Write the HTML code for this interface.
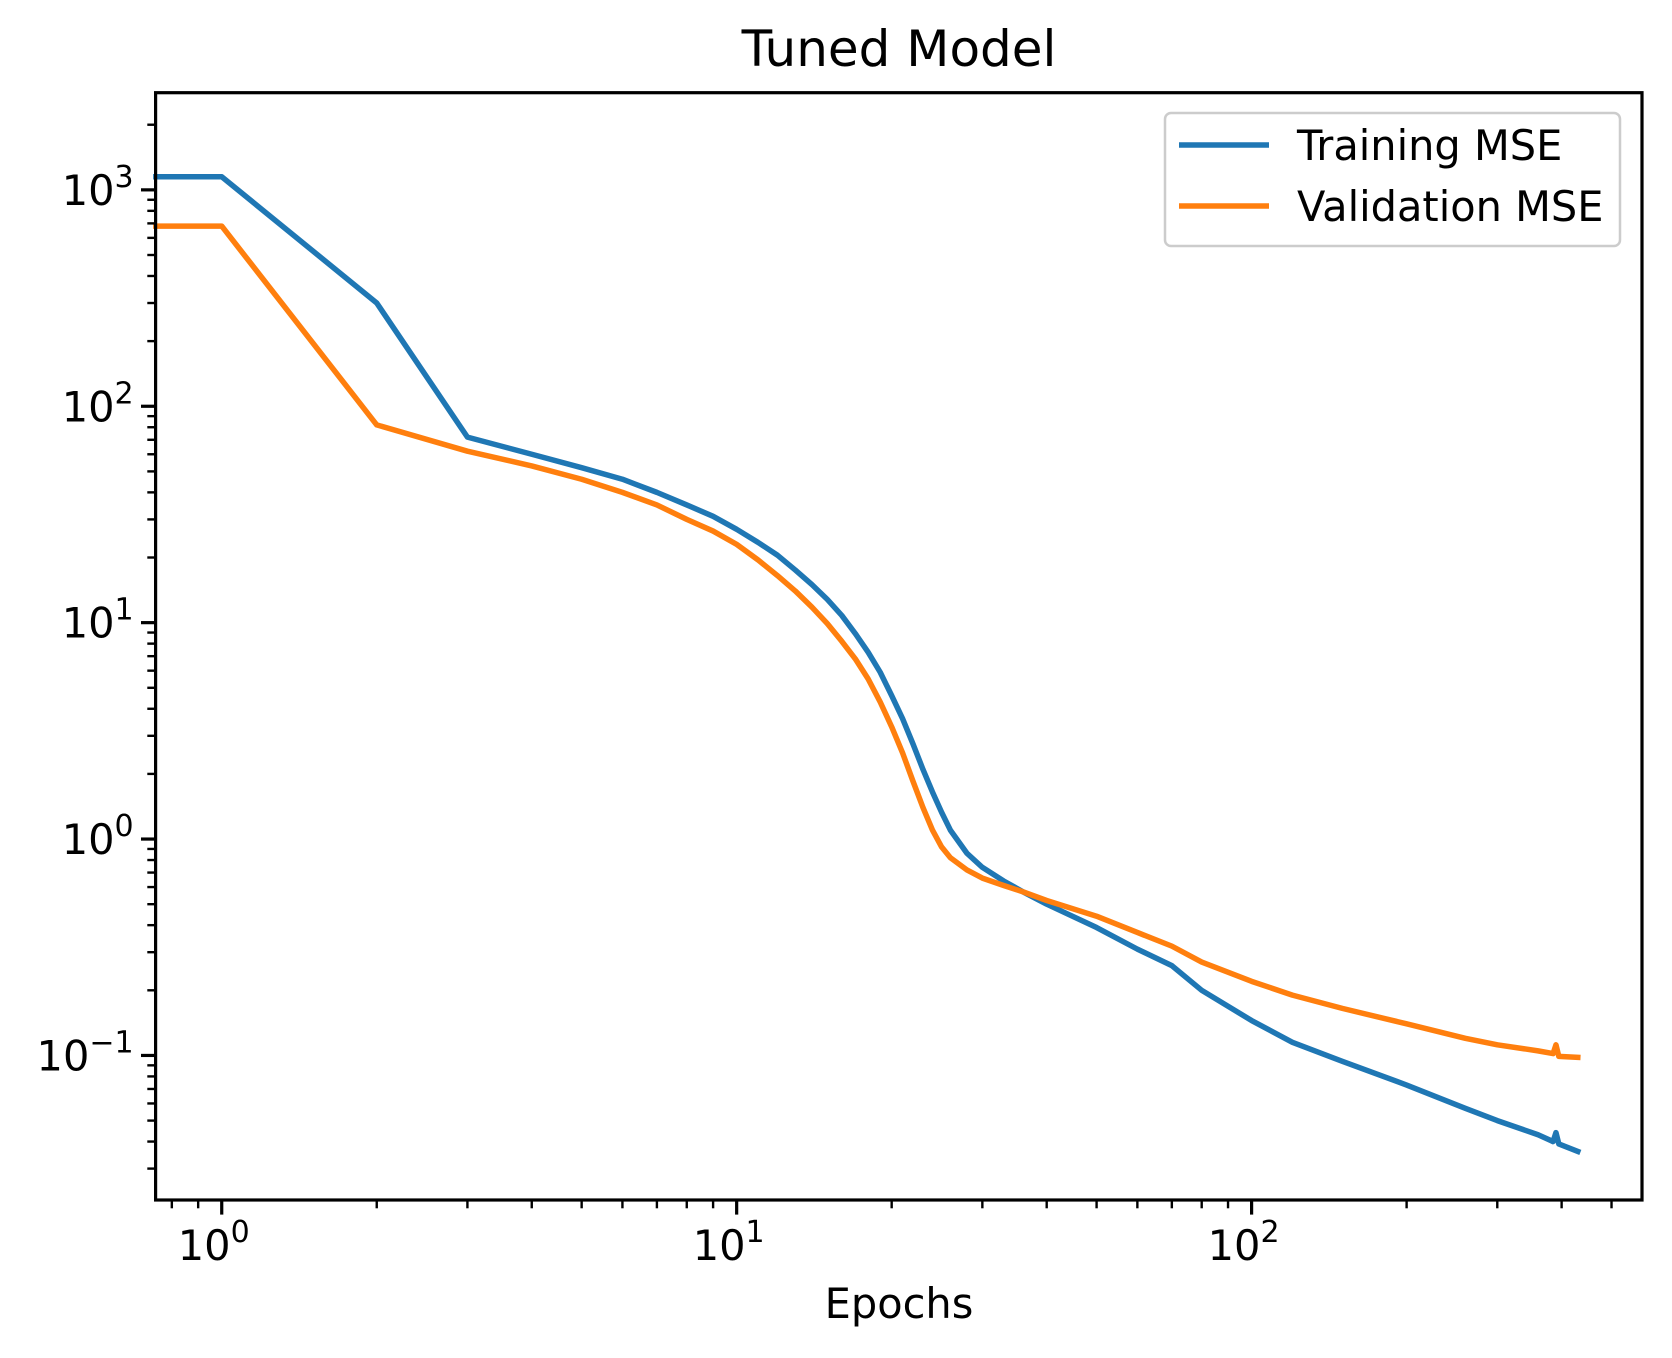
<!DOCTYPE html>
<html><head><meta charset="utf-8"><style>
html,body{margin:0;padding:0;background:#fff;}
svg{display:block;font-family:"DejaVu Sans","Liberation Sans",sans-serif;}
</style></head><body>
<svg id="chart" width="1672" height="1358" viewBox="0 0 1672 1358" xmlns="http://www.w3.org/2000/svg">
<rect width="1672" height="1358" fill="#fff"/>
<text x="899" y="66" text-anchor="middle" font-size="50">Tuned Model</text>
<g id="marks"></g>
<g id="axes"></g>
<text x="899" y="1318" text-anchor="middle" font-size="41.5">Epochs</text>
<g>
<rect x="1165" y="113" width="455" height="133" rx="6" fill="#fff" fill-opacity="0.8" stroke="#ccc" stroke-width="2.5"/>
<line x1="1179" y1="145" x2="1269" y2="145" stroke="#1f77b4" stroke-width="5.5"/>
<text x="1297" y="160" font-size="41.5">Training MSE</text>
<line x1="1179" y1="206" x2="1269" y2="206" stroke="#ff7f0e" stroke-width="5.5"/>
<text x="1297" y="221" font-size="41.5">Validation MSE</text>
</g>
</svg>
<script>
const epochs = [0.745, 1, 2, 3, 4, 5, 6, 7, 8, 9, 10, 11, 12, 13, 14, 15, 16, 17, 18, 19, 20, 21, 22, 23, 24, 25, 26, 28, 30, 33, 36, 40, 50, 60, 70, 80, 100, 120, 150, 200, 260, 300, 360, 385, 390, 395, 430];
const trainingMSE = [1150, 1150, 300, 72, 60, 52, 46, 40, 35, 31, 27, 23.5, 20.5, 17.5, 15, 12.8, 10.8, 8.9, 7.3, 5.9, 4.6, 3.6, 2.75, 2.1, 1.65, 1.33, 1.1, 0.86, 0.74, 0.64, 0.57, 0.5, 0.39, 0.31, 0.26, 0.2, 0.145, 0.115, 0.094, 0.073, 0.057, 0.05, 0.043, 0.04, 0.044, 0.039, 0.036];
const validationMSE = [680, 680, 82, 62, 53, 46, 40, 35, 30, 26.5, 23, 19.5, 16.5, 14, 11.8, 9.9, 8.2, 6.8, 5.5, 4.3, 3.3, 2.5, 1.85, 1.4, 1.1, 0.92, 0.82, 0.72, 0.66, 0.61, 0.57, 0.52, 0.44, 0.37, 0.32, 0.27, 0.22, 0.19, 0.165, 0.14, 0.12, 0.112, 0.105, 0.102, 0.112, 0.099, 0.098];
const xTickLabels = ["0", "1", "2"];
const yTickLabels = ["\u22121", "0", "1", "2", "3"];

const L=155.6,R=1642,T=92.7,B=1200;
const xMinL=Math.log10(0.744), xMaxL=Math.log10(573);
const yMinL=-1.668, yMaxL=3.449;
function xs(v){return L+(Math.log10(v)-xMinL)/(xMaxL-xMinL)*(R-L);}
function ys(v){return B-(Math.log10(v)-yMinL)/(yMaxL-yMinL)*(B-T);}
const NS="http://www.w3.org/2000/svg";
function mk(tag,attrs,parent){const e=document.createElementNS(NS,tag);for(const k in attrs)e.setAttribute(k,attrs[k]);parent.appendChild(e);return e;}
const marks=document.getElementById('marks'), axes=document.getElementById('axes');
function series(vals,color,name){
  const d=epochs.map((x,i)=>(i?'L':'M')+xs(x).toFixed(2)+','+ys(vals[i]).toFixed(2)).join('');
  const p=mk('path',{d:d,fill:'none',stroke:color,'stroke-width':5.5,'stroke-linejoin':'round','stroke-linecap':'square'},marks);
  
  
}
series(trainingMSE,'#1f77b4','training-mse-line');
series(validationMSE,'#ff7f0e','validation-mse-line');
const fr=mk('rect',{x:L,y:T,width:R-L,height:B-T,fill:'none',stroke:'#000','stroke-width':3.2},axes);


for(let e=-1;e<=2;e++){for(let m=1;m<10;m++){const v=m*Math.pow(10,e);const x=xs(v);if(x<L-0.5||x>R+0.5)continue;
  const major=m===1;mk('line',{x1:x,y1:B,x2:x,y2:B+(major?14.6:8.3),stroke:'#000','stroke-width':major?3.2:2.4},axes);
  if(major&&e>=0){const t=mk('text',{x:x-8,y:B+60,'text-anchor':'middle','font-size':41.5},axes);
    
    
    t.textContent='10';const s=mk('tspan',{dy:-18,'font-size':30},t);s.textContent=xTickLabels[e];}
}}
for(let e=-2;e<=3;e++){for(let m=1;m<10;m++){const v=m*Math.pow(10,e);const y=ys(v);if(y<T-0.5||y>B+0.5)continue;
  const major=m===1;mk('line',{x1:L,y1:y,x2:L-(major?14.6:8.3),y2:y,stroke:'#000','stroke-width':major?3.2:2.4},axes);
  if(major){const t=mk('text',{x:L-22,y:y+15,'text-anchor':'end','font-size':41.5},axes);
    
    
    t.appendChild(document.createTextNode('10'));const s=mk('tspan',{dy:-18,'font-size':30},t);s.textContent=yTickLabels[e+1];}
}}
</script>
</body></html>
